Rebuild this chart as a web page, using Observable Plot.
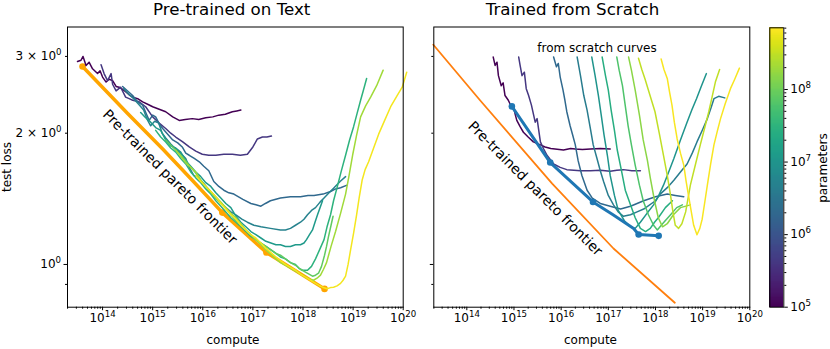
<!DOCTYPE html>
<html><head><meta charset="utf-8">
<script src="https://cdn.jsdelivr.net/npm/d3@7"></script>
<script src="https://cdn.jsdelivr.net/npm/@observablehq/plot@0.6"></script>
<style>
body{margin:0;background:#fff;font-family:"DejaVu Sans",sans-serif;}
#wrap{position:relative;width:830px;height:349px;overflow:hidden;background:#fff;}
.abs{position:absolute;top:0;}
.lbl{position:absolute;white-space:nowrap;line-height:1;color:#000;}
</style></head>
<body><div id="wrap"></div>
<script>
// ---------- data: [log10(compute), test loss] ----------
const preParams = [1e5, 4e5, 2e6, 5e6, 1.2e7, 3e7, 8e7, 2e8, 6e8];
const pre1 = [[13.50,2.92],[13.57,2.94],[13.61,3.00],[13.67,2.86],[13.73,2.91],[13.80,2.81],[13.90,2.74],[13.95,2.78],[14.00,2.69],[14.07,2.62],[14.13,2.66],[14.20,2.64],[14.27,2.56],[14.33,2.55],[14.40,2.52],[14.46,2.49],[14.53,2.45],[14.60,2.42],[14.70,2.40],[14.80,2.36],[14.90,2.33],[15.00,2.30],[15.13,2.27],[15.26,2.24],[15.40,2.18],[15.53,2.14],[15.65,2.15],[15.79,2.16],[15.92,2.15],[16.06,2.17],[16.20,2.18],[16.32,2.20],[16.45,2.21],[16.59,2.24],[16.68,2.25],[16.76,2.26]];
const pre2 = [[13.97,2.87],[14.03,2.74],[14.10,2.64],[14.17,2.74],[14.20,2.59],[14.27,2.50],[14.36,2.55],[14.46,2.42],[14.53,2.40],[14.60,2.38],[14.73,2.36],[14.86,2.30],[15.00,2.18],[15.13,2.11],[15.26,2.05],[15.36,2.00],[15.46,1.96],[15.60,1.91],[15.73,1.86],[15.86,1.82],[15.99,1.79],[16.12,1.78],[16.26,1.78],[16.42,1.79],[16.59,1.79],[16.75,1.78],[16.89,1.79],[17.00,1.86],[17.09,1.94],[17.19,1.96],[17.28,1.96],[17.37,1.97]];
const pre3 = [[14.40,2.56],[14.50,2.50],[14.60,2.44],[14.70,2.36],[14.80,2.32],[14.87,2.22],[14.93,2.14],[15.00,2.20],[15.06,2.18],[15.13,2.10],[15.20,2.05],[15.30,1.99],[15.40,1.93],[15.50,1.90],[15.59,1.86],[15.66,1.80],[15.73,1.78],[15.83,1.75],[15.93,1.72],[16.02,1.68],[16.12,1.64],[16.22,1.55],[16.32,1.51],[16.42,1.48],[16.52,1.46],[16.62,1.45],[16.80,1.41],[16.96,1.38],[17.06,1.37],[17.16,1.36],[17.25,1.38],[17.35,1.40],[17.55,1.42],[17.75,1.43],[17.95,1.43],[18.10,1.44],[18.22,1.44],[18.40,1.45],[18.55,1.47],[18.65,1.49],[18.75,1.50],[18.88,1.52]];
const pre4 = [[14.42,2.53],[14.52,2.46],[14.62,2.40],[14.72,2.33],[14.82,2.26],[14.89,2.15],[14.96,2.08],[15.04,2.13],[15.12,2.11],[15.19,2.00],[15.26,1.95],[15.36,1.89],[15.46,1.84],[15.56,1.80],[15.66,1.75],[15.74,1.66],[15.82,1.60],[15.89,1.59],[15.96,1.56],[16.09,1.50],[16.22,1.44],[16.34,1.39],[16.46,1.35],[16.56,1.32],[16.66,1.30],[16.78,1.27],[16.89,1.25],[17.02,1.23],[17.16,1.22],[17.35,1.21],[17.55,1.20],[17.65,1.20],[17.75,1.21],[17.85,1.23],[17.95,1.25],[18.02,1.27],[18.09,1.30],[18.17,1.33],[18.25,1.35],[18.34,1.39],[18.42,1.42],[18.52,1.46],[18.62,1.50],[18.74,1.55],[18.85,1.59]];
const pre5 = [[14.76,2.23],[14.86,2.17],[14.96,2.12],[15.06,2.06],[15.16,2.03],[15.26,1.93],[15.36,1.87],[15.46,1.85],[15.56,1.81],[15.66,1.73],[15.76,1.68],[15.86,1.63],[15.96,1.59],[16.06,1.54],[16.16,1.51],[16.26,1.46],[16.36,1.42],[16.46,1.38],[16.56,1.35],[16.66,1.29],[16.76,1.25],[16.86,1.22],[16.96,1.19],[17.06,1.17],[17.16,1.15],[17.26,1.13],[17.36,1.12],[17.46,1.11],[17.55,1.11],[17.65,1.10],[17.75,1.10],[17.85,1.11],[17.95,1.11],[18.02,1.12],[18.07,1.14],[18.13,1.17],[18.19,1.20],[18.24,1.25],[18.29,1.30],[18.34,1.35],[18.39,1.40]];
const pre6 = [[15.06,2.03],[15.16,1.96],[15.26,1.91],[15.36,1.85],[15.46,1.81],[15.56,1.75],[15.66,1.70],[15.76,1.63],[15.86,1.58],[15.96,1.54],[16.06,1.49],[16.16,1.45],[16.26,1.40],[16.36,1.36],[16.46,1.32],[16.56,1.28],[16.66,1.25],[16.76,1.22],[16.86,1.19],[16.96,1.16],[17.06,1.14],[17.16,1.12],[17.26,1.10],[17.36,1.08],[17.46,1.06],[17.55,1.04],[17.65,1.03],[17.75,1.01],[17.85,1.00],[17.92,0.98],[17.99,0.97],[18.09,0.97],[18.17,0.99],[18.25,1.03],[18.33,1.08],[18.42,1.14],[18.48,1.22],[18.55,1.30],[18.61,1.40],[18.68,1.50],[18.76,1.63],[18.85,1.78],[18.93,1.93],[19.01,2.07],[19.08,2.22],[19.15,2.38],[19.21,2.52],[19.27,2.67]];
const pre7 = [[15.26,1.93],[15.36,1.88],[15.46,1.83],[15.56,1.78],[15.66,1.73],[15.76,1.67],[15.86,1.62],[15.96,1.56],[16.06,1.51],[16.16,1.46],[16.26,1.42],[16.36,1.38],[16.46,1.35],[16.56,1.30],[16.66,1.26],[16.76,1.23],[16.86,1.20],[16.96,1.17],[17.06,1.14],[17.16,1.12],[17.26,1.10],[17.36,1.08],[17.46,1.06],[17.55,1.05],[17.65,1.03],[17.75,1.01],[17.85,0.996],[17.95,0.975],[18.05,0.96],[18.12,0.95],[18.19,0.94],[18.25,0.945],[18.31,0.955],[18.37,0.99],[18.43,1.05],[18.47,1.10],[18.51,1.16],[18.56,1.23],[18.60,1.29]];
const pre8 = [[15.46,1.83],[15.56,1.77],[15.66,1.71],[15.76,1.67],[15.86,1.63],[15.96,1.56],[16.06,1.51],[16.16,1.47],[16.26,1.43],[16.36,1.39],[16.46,1.35],[16.56,1.31],[16.66,1.28],[16.76,1.24],[16.86,1.20],[16.96,1.17],[17.06,1.14],[17.16,1.11],[17.26,1.08],[17.36,1.055],[17.46,1.03],[17.55,1.01],[17.65,0.996],[17.75,0.98],[17.85,0.965],[17.95,0.95],[18.05,0.935],[18.13,0.925],[18.21,0.92],[18.28,0.93],[18.35,0.945],[18.41,0.975],[18.47,1.01],[18.56,1.10],[18.65,1.19],[18.75,1.31],[18.85,1.45],[18.92,1.60],[18.99,1.78],[19.07,1.98],[19.15,2.18],[19.25,2.31],[19.35,2.42],[19.47,2.57],[19.60,2.79]];
const pre9 = [[15.86,1.60],[15.96,1.55],[16.06,1.51],[16.16,1.47],[16.26,1.43],[16.36,1.38],[16.46,1.34],[16.56,1.30],[16.66,1.27],[16.76,1.23],[16.86,1.20],[16.96,1.17],[17.06,1.15],[17.16,1.12],[17.26,1.09],[17.36,1.065],[17.46,1.04],[17.55,1.02],[17.65,1.00],[17.75,0.985],[17.85,0.97],[17.95,0.95],[18.05,0.935],[18.15,0.92],[18.25,0.905],[18.32,0.895],[18.39,0.887],[18.48,0.88],[18.55,0.885],[18.61,0.887],[18.68,0.893],[18.75,0.905],[18.80,0.92],[18.85,0.94],[18.90,1.00],[18.95,1.08],[19.01,1.18],[19.07,1.30],[19.12,1.42],[19.18,1.56],[19.24,1.65],[19.31,1.72],[19.41,1.85],[19.51,1.99],[19.63,2.14],[19.75,2.30],[19.87,2.43],[19.98,2.55],[20.07,2.76]];
const preFrontier = [[13.60,2.845],[14.50,2.22],[15.20,1.84],[15.79,1.56],[16.39,1.315],[17.27,1.065],[17.85,0.968],[18.43,0.879]];
const preDots = [[13.60,2.845],[16.39,1.315],[17.27,1.065],[18.43,0.879]];

const scratchParams = [1e5, 4e5, 2e6, 4e6, 1e7, 2.5e7, 6e7, 1.5e8, 3e8, 6.5e8];
const scratch1 = [[14.56,2.99],[14.60,2.86],[14.64,2.91],[14.67,2.71],[14.73,2.57],[14.77,2.61],[14.81,2.44],[14.88,2.38],[14.92,2.33],[14.99,2.30],[15.03,2.20],[15.06,2.14],[15.13,2.07],[15.20,2.01],[15.30,1.96],[15.41,1.91],[15.56,1.88],[15.66,1.86],[15.78,1.845],[15.87,1.84],[16.05,1.83],[16.20,1.845],[16.30,1.84],[16.45,1.835],[16.62,1.84],[16.83,1.845],[17.04,1.84]];
const scratch2 = [[15.10,2.99],[15.13,2.86],[15.17,2.71],[15.22,2.76],[15.26,2.53],[15.31,2.44],[15.37,2.32],[15.45,2.12],[15.49,2.16],[15.56,1.91],[15.63,1.84],[15.70,1.78],[15.84,1.70],[15.98,1.67],[16.12,1.65],[16.27,1.645],[16.41,1.64],[16.62,1.64],[16.83,1.645],[17.04,1.635],[17.18,1.645],[17.32,1.65],[17.50,1.64],[17.68,1.64]];
const scratch3 = [[15.84,2.99],[15.90,2.84],[15.94,2.89],[15.98,2.69],[16.04,2.51],[16.08,2.38],[16.12,2.24],[16.19,2.08],[16.25,1.97],[16.30,1.88],[16.36,1.73],[16.44,1.60],[16.55,1.48],[16.66,1.42],[16.83,1.38],[17.04,1.36],[17.26,1.34],[17.47,1.36],[17.61,1.38],[17.75,1.40],[18.00,1.43],[18.25,1.45],[18.42,1.44],[18.60,1.43]];
const scratch4 = [[16.34,2.99],[16.41,2.71],[16.48,2.44],[16.55,2.26],[16.62,2.05],[16.68,1.88],[16.76,1.75],[16.83,1.64],[16.90,1.55],[17.00,1.44],[17.11,1.37],[17.21,1.32],[17.32,1.29],[17.47,1.30],[17.61,1.32],[17.75,1.34],[18.00,1.40],[18.10,1.45],[18.25,1.50],[18.39,1.56],[18.53,1.63],[18.67,1.70],[18.78,1.80],[18.88,1.91],[19.00,2.04],[19.10,2.16],[19.18,2.29],[19.24,2.40],[19.34,2.43],[19.47,2.41]];
const scratch5 = [[16.65,2.99],[16.72,2.71],[16.79,2.44],[16.85,2.20],[16.91,1.98],[16.98,1.78],[17.04,1.60],[17.13,1.44],[17.21,1.33],[17.34,1.26],[17.47,1.22],[17.57,1.21],[17.68,1.25],[17.82,1.31],[17.96,1.37],[18.07,1.44],[18.17,1.52],[18.28,1.63],[18.39,1.75],[18.53,1.93],[18.67,2.12],[18.77,2.26],[18.87,2.40],[18.97,2.56],[19.08,2.74]];
const scratch6 = [[16.87,2.99],[16.94,2.71],[17.00,2.51],[17.06,2.26],[17.13,2.03],[17.19,1.83],[17.28,1.64],[17.36,1.48],[17.47,1.37],[17.57,1.28],[17.68,1.21],[17.79,1.19],[17.89,1.21],[17.98,1.25],[18.06,1.28],[18.21,1.35],[18.36,1.40]];
const scratch7 = [[17.18,2.99],[17.23,2.79],[17.30,2.57],[17.36,2.31],[17.42,2.08],[17.49,1.88],[17.57,1.69],[17.66,1.52],[17.74,1.40],[17.85,1.30],[17.96,1.23],[18.04,1.20],[18.15,1.24],[18.32,1.30],[18.45,1.35],[18.57,1.37]];
const scratch8 = [[17.43,2.99],[17.49,2.79],[17.57,2.51],[17.66,2.20],[17.74,1.93],[17.83,1.73],[17.89,1.58],[17.98,1.40],[18.06,1.28],[18.15,1.22],[18.25,1.24],[18.38,1.30],[18.53,1.35],[18.74,1.37]];
const scratch9 = [[17.64,2.97],[17.71,2.80],[17.78,2.66],[17.88,2.45],[17.99,2.24],[18.08,2.00],[18.17,1.78],[18.25,1.60],[18.32,1.44],[18.37,1.32],[18.42,1.23],[18.49,1.21],[18.56,1.24],[18.64,1.32],[18.74,1.52],[18.85,1.70],[18.95,1.88],[19.04,2.05],[19.13,2.24],[19.20,2.42],[19.27,2.62],[19.36,2.80]];
const scratch10 = [[18.12,2.96],[18.18,2.80],[18.25,2.67],[18.30,2.48],[18.35,2.32],[18.40,2.12],[18.46,1.94],[18.53,1.80],[18.60,1.69],[18.65,1.55],[18.70,1.44],[18.76,1.32],[18.81,1.23],[18.88,1.17],[18.94,1.21],[18.99,1.27],[19.05,1.40],[19.10,1.52],[19.17,1.70],[19.24,1.88],[19.31,2.02],[19.38,2.16],[19.48,2.34],[19.59,2.53],[19.68,2.66],[19.78,2.82]];
const scratchFrontier = [[14.955,2.304],[15.769,1.713],[16.675,1.391],[17.10,1.30],[17.537,1.209],[17.643,1.171],[18.068,1.163]];
const scratchDots = [[14.955,2.304],[15.769,1.713],[16.675,1.391],[17.643,1.171],[18.068,1.163]];
const pretrainedFit = [[13.29,3.19],[14.28,2.38],[15.81,1.533],[17.11,1.088],[18.41,0.817]];

const annotations = [
  {panel: "pre", lc: 15.345, L: 1.587, text: "Pre-trained pareto frontier", rotate: 45, size: 14},
  {panel: "scratch", lc: 15.45, L: 1.493, text: "Pre-trained pareto frontier", rotate: 45, size: 14},
  {panel: "scratch", lc: 16.76, L: 3.13, text: "from scratch curves", rotate: 0, size: 12}
];
const xMajor = [14, 15, 16, 17, 18, 19, 20];
const yMajor = [1];
const yMinor = [0.9, 2, 3];
const yMinorLabels = {2: "2 × 10⁰", 3: "3 × 10⁰"};
const cbMajor = [5, 6, 7, 8];

// ---------- helpers ----------
const SUP = "⁰¹²³⁴⁵⁶⁷⁸⁹";
const sup = n => String(n).split("").map(c => SUP["0123456789".indexOf(c)]).join("");
const unsup = s => s.split("").map(c => String(SUP.indexOf(c))).join("");
const pow = d => "10" + sup(Math.round(Math.log10(d)));
const xDomain = [10 ** 13.3, 1e20];
const yDomain = [0.798, 3.504];
const cDomain = [1e5, 10 ** 8.85];
const colorOpt = {type: "log", scheme: "viridis", domain: cDomain};
const toRows = (curves, params) => curves.flatMap((c, i) => c.map(([lc, L]) => ({x: 10 ** lc, y: L, p: params[i], id: i})));
const toPts = arr => arr.map(([lc, L]) => ({x: 10 ** lc, y: L}));
const minorX = d3.range(13, 20).flatMap(k => d3.range(2, 10).map(m => m * 10 ** k)).filter(v => v >= xDomain[0] && v <= xDomain[1]);
const minorC = d3.range(5, 9).flatMap(k => d3.range(2, 10).map(m => m * 10 ** k)).filter(v => v <= cDomain[1]);

function axesMarks(showY) {
  return [
    Plot.axisX(xMajor.map(e => 10 ** e), {tickSize: 3.5, tickPadding: 3, tickFormat: pow, label: null, fontSize: 12}),
    Plot.axisX(minorX, {tickSize: 2, tickFormat: () => "", label: null}),
    Plot.axisY(yMajor, {tickSize: 3.5, tickPadding: 3, tickFormat: showY ? (() => "10⁰") : (() => ""), label: null, fontSize: 12}),
    Plot.axisY(yMinor, {tickSize: 2, tickPadding: 4, tickFormat: showY ? (d => yMinorLabels[d] || "") : (() => ""), label: null, fontSize: 12})
  ];
}
function annMarks(panel) {
  return annotations.filter(a => a.panel === panel).map(a =>
    Plot.text([a], {x: d => 10 ** d.lc, y: d => d.L, text: d => d.text, rotate: a.rotate, fontSize: a.size, fill: "black"}));
}
const common = {height: 349, marginTop: 26.5, marginBottom: 42.3,
  x: {type: "log", domain: xDomain, label: null},
  y: {type: "log", domain: yDomain, label: null},
  color: colorOpt,
  style: {fontFamily: "DejaVu Sans", fontSize: "12px", background: "transparent", overflow: "visible"}};

const preRows = toRows([pre1, pre2, pre3, pre4, pre5, pre6, pre7, pre8, pre9], preParams);
const scratchRows = toRows([scratch1, scratch2, scratch3, scratch4, scratch5, scratch6, scratch7, scratch8, scratch9, scratch10], scratchParams);

const left = Plot.plot({...common, width: 410, marginLeft: 67, marginRight: 7.3,
  marks: [
    Plot.line(toPts(preFrontier), {x: "x", y: "y", stroke: "#ffa500", strokeWidth: 3.5}),
    Plot.dot(toPts(preDots), {x: "x", y: "y", fill: "#ffa500", r: 3.3}),
    Plot.line(preRows, {x: "x", y: "y", z: "id", stroke: "p", strokeWidth: 1.5}),
    ...annMarks("pre"),
    ...axesMarks(true),
    Plot.frame({stroke: "black", strokeWidth: 1})
  ]});

const right = Plot.plot({...common, width: 360, marginLeft: 33.3, marginRight: 10.7,
  marks: [
    Plot.line(toPts(pretrainedFit), {x: "x", y: "y", stroke: "#ff7f0e", strokeWidth: 1.8}),
    Plot.line(scratchRows, {x: "x", y: "y", z: "id", stroke: "p", strokeWidth: 1.5}),
    Plot.line(toPts(scratchFrontier), {x: "x", y: "y", stroke: "#1f77b4", strokeWidth: 3}),
    Plot.dot(toPts(scratchDots), {x: "x", y: "y", fill: "#1f77b4", r: 3.3}),
    ...annMarks("scratch"),
    ...axesMarks(false),
    Plot.frame({stroke: "black", strokeWidth: 1})
  ]});

const nSteps = 240;
const span = Math.log10(cDomain[1]) - 5;
const cbSteps = d3.range(nSteps).map(i => ({
  a: 10 ** (5 + span * i / nSteps),
  b: 10 ** Math.min(5 + span * (i + 2) / nSteps, Math.log10(cDomain[1])),
  m: 10 ** (5 + span * (i + 0.5) / nSteps)}));
const cbar = Plot.plot({width: 70, height: 349, marginLeft: 9.3, marginRight: 46.7, marginTop: 27.3, marginBottom: 42.3,
  x: {domain: [0, 1], axis: null},
  y: {type: "log", domain: cDomain, label: null},
  color: colorOpt,
  style: {fontFamily: "DejaVu Sans", fontSize: "12px", background: "transparent"},
  marks: [
    Plot.rect(cbSteps, {x1: () => 0, x2: () => 1, y1: "a", y2: "b", fill: "m", shapeRendering: "crispEdges"}),
    Plot.axisY(cbMajor.map(e => 10 ** e), {anchor: "right", tickSize: 3.5, tickPadding: 3, tickFormat: pow, label: null, fontSize: 12}),
    Plot.axisY(minorC, {anchor: "right", tickSize: 2, tickFormat: () => "", label: null}),
    Plot.frame({stroke: "black", strokeWidth: 1})
  ]});

// render superscripts in tick labels as smaller raised text (matplotlib-like)
function superscripts(svg) {
  svg.querySelectorAll("text").forEach(t => {
    if (t.children.length) return;
    const m = t.textContent.match(/^(.*?)([⁰¹²³⁴⁵⁶⁷⁸⁹]+)$/);
    if (!m) return;
    t.textContent = "";
    const ns = "http://www.w3.org/2000/svg";
    const a = document.createElementNS(ns, "tspan");
    a.textContent = m[1];
    const b = document.createElementNS(ns, "tspan");
    b.textContent = unsup(m[2]);
    b.setAttribute("font-size", "8.6");
    b.setAttribute("dy", "-5.2");
    t.appendChild(a); t.appendChild(b);
  });
}
[left, right, cbar].forEach(superscripts);

const wrap = document.getElementById("wrap");
function place(el, x) { el.classList.add("abs"); el.style.left = x + "px"; wrap.appendChild(el); }
place(cbar, 760);
place(right, 400);
place(left, 0);

function label(text, cx, top, size, rot) {
  const d = document.createElement("div");
  d.className = "lbl";
  d.textContent = text;
  d.style.fontSize = size + "px";
  d.style.left = cx + "px"; d.style.top = top + "px";
  d.style.transform = rot ? "translate(-50%,-50%) rotate(-90deg)" : "translateX(-50%)";
  wrap.appendChild(d);
}
label("Pre-trained on Text", 231.7, 0.5, 16.7, false);
label("Trained from Scratch", 572.5, 0.5, 16.7, false);
label("compute", 233, 334, 12, false);
label("compute", 590.5, 334, 12, false);
label("test loss", 7, 167, 12, true);
label("parameters", 823, 168, 12, true);
</script></body></html>
